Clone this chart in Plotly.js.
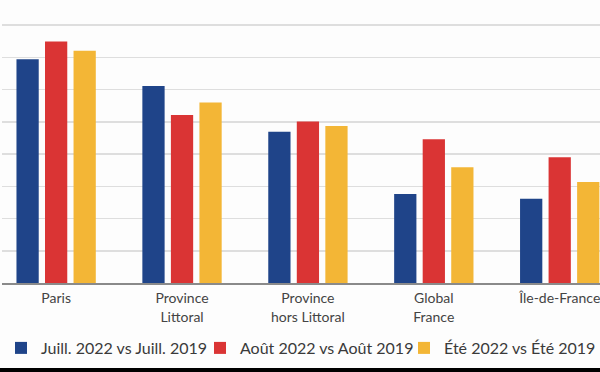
<!DOCTYPE html>
<html>
<head>
<meta charset="utf-8">
<script src="https://cdn.plot.ly/plotly-3.0.1.min.js"></script>
<style>html,body{margin:0;padding:0;background:#fdfdfd;}#chart{width:600px;height:372px;}</style>
</head>
<body>
<div id="chart"></div>
<script>
const categories = ["Paris", "Province<br>Littoral", "Province<br>hors Littoral", "Global<br>France", "Île-de-France"];
const seriesNames = ["Juill. 2022 vs Juill. 2019", "Août 2022 vs Août 2019", "Été 2022 vs Été 2019"];
const juillet = [6.94, 6.11, 4.69, 2.76, 2.61];
const aout = [7.49, 5.21, 5.01, 4.46, 3.90];
const ete = [7.20, 5.60, 4.87, 3.59, 3.13];
const colors = ["#1f4489", "#da3434", "#f3b636"];

const values = [juillet, aout, ete];
const legendIds = ["legend", "legend2", "legend3"];
const traces = values.map((v, i) => ({
  type: "bar",
  x: categories,
  y: v,
  name: seriesNames[i],
  marker: {color: colors[i], line: {width: 0}},
  legend: legendIds[i],
  hoverinfo: "skip"
}));

const legendFont = {family: "Lato, 'Open Sans', sans-serif", size: 16, color: "#3a3a3a"};
const mkLegend = (px) => ({
  xref: "container", yref: "container",
  x: px / 600, y: 1 - 348 / 372,
  xanchor: "left", yanchor: "middle",
  orientation: "h", bgcolor: "rgba(0,0,0,0)", borderwidth: 0,
  font: legendFont
});

const layout = {
  width: 600, height: 372,
  margin: {l: 2, r: 0, t: 0, b: 89, pad: 0},
  paper_bgcolor: "#fdfdfd",
  plot_bgcolor: "#fdfdfd",
  barmode: "group",
  bargap: 0.32,
  bargroupgap: 0.22,
  showlegend: true,
  legend: mkLegend(41 - 40),
  legend2: mkLegend(240 - 40),
  legend3: mkLegend(444 - 40),
  xaxis: {
    type: "category",
    range: [-0.43, 4.32],
    showgrid: false,
    showline: true, linecolor: "#8a8a8a", linewidth: 1.5,
    ticks: "",
    ticklabelstandoff: 2,
    tickfont: {family: "Lato, 'Open Sans', sans-serif", size: 14, color: "#444444"},
    fixedrange: true
  },
  yaxis: {
    range: [0, 8.775],
    dtick: 1, tick0: 0,
    showticklabels: false,
    showgrid: true, gridcolor: "#dedede", gridwidth: 1.5,
    zeroline: false, showline: false, ticks: "",
    fixedrange: true
  },
  shapes: [{
    type: "rect", xref: "paper", yref: "paper",
    x0: -0.01, x1: 1.01, y0: (283 - 372) / 283, y1: (283 - 368) / 283,
    fillcolor: "#000000", line: {width: 0}
  }]
};

Plotly.newPlot("chart", traces, layout, {displayModeBar: false, staticPlot: true});
</script>
</body>
</html>
